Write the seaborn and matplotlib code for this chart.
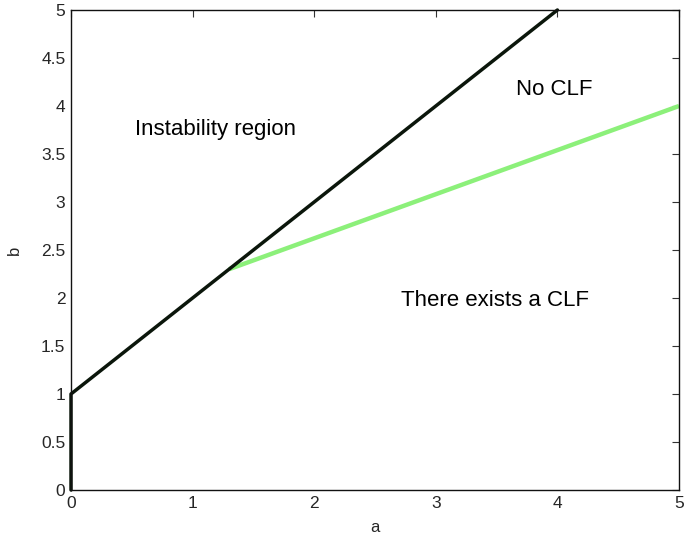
import matplotlib
matplotlib.use("Agg")
import matplotlib.pyplot as plt
import seaborn as sns
import pandas as pd

# Stability boundary: b = a + 1 for a >= 0, plus the segment on the b axis
boundary_a = [0.0, 0.0, 4.0]
boundary_b = [0.0, 1.0, 5.0]

# Upper limit of the region where a CLF exists
clf_a = [1.3, 5.0]
clf_b = [2.3, 4.0]

ticks = [0, 0.5, 1, 1.5, 2, 2.5, 3, 3.5, 4, 4.5, 5]
x_ticks = [0, 1, 2, 3, 4, 5]

region_labels = ["Instability region", "No CLF", "There exists a CLF"]
label_a = [1.19, 3.97, 3.49]
label_b = [3.75, 4.17, 1.97]

sns.set_style("white")
plt.rcParams["font.family"] = ["Liberation Sans", "DejaVu Sans"]

fig = plt.figure(figsize=(6.84, 5.39), dpi=100)
ax = fig.add_axes([71 / 684, 1 - 490 / 539, 608 / 684, 480 / 539])

clf_df = pd.DataFrame({"a": clf_a, "b": clf_b})
bnd_df = pd.DataFrame({"a": boundary_a, "b": boundary_b})

sns.lineplot(data=clf_df, x="a", y="b", ax=ax, color="#8cf07a",
             linewidth=3.2, sort=False, estimator=None, solid_capstyle="butt")
sns.lineplot(data=bnd_df, x="a", y="b", ax=ax, color="#0b160b",
             linewidth=2.5, sort=False, estimator=None, clip_on=False)

for txt, xa, yb in zip(region_labels, label_a, label_b):
    ax.text(xa, yb, txt, ha="center", va="center", fontsize=16, color="black")

ax.set_xlim(0, 5)
ax.set_ylim(0, 5)
ax.set_xticks(x_ticks)
ax.set_xticklabels([f"{t:g}" for t in x_ticks])
ax.set_yticks(ticks)
ax.set_yticklabels([f"{t:g}" for t in ticks])
ax.set_xlabel("a", fontsize=12, labelpad=7)
ax.set_ylabel("b", fontsize=12, labelpad=14)

ax.tick_params(direction="in", length=5, width=0.8, color="#333333",
               labelsize=12.5, top=True, right=True, pad=4)
for s in ax.spines.values():
    s.set_visible(True)
    s.set_color("#111111")
    s.set_linewidth(1.0)

fig.savefig("out.png", dpi=100)
